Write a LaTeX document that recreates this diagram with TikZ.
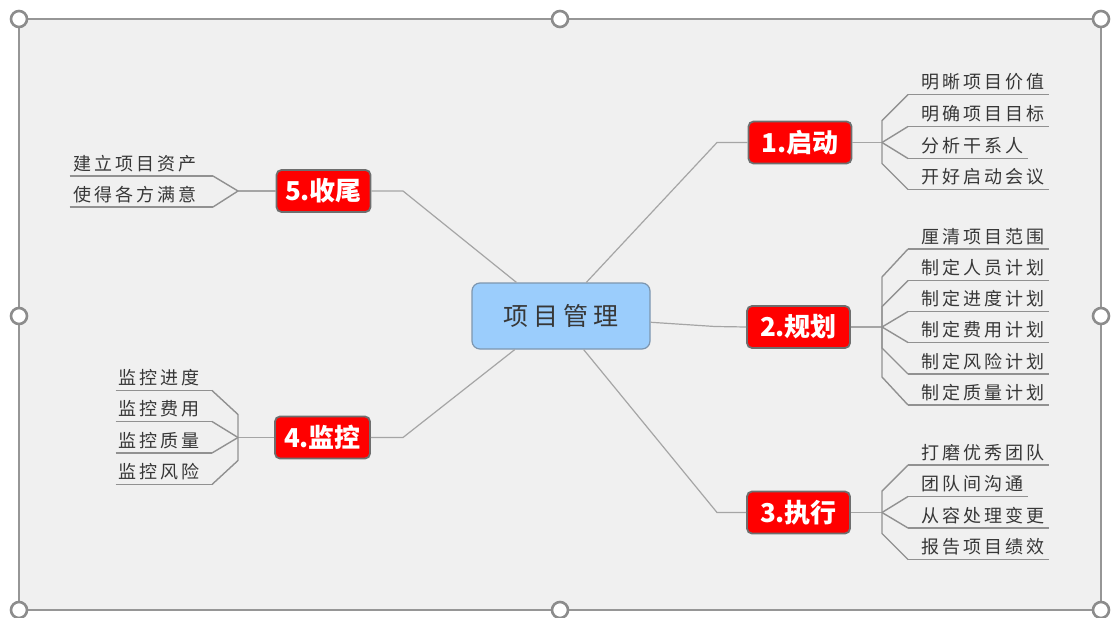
\documentclass[tikz,border=0pt]{standalone}
\usepackage{fontspec}
\setmainfont{Noto Sans CJK SC}
\definecolor{bgc}{RGB}{240,240,240}
\definecolor{framec}{RGB}{150,150,150}
\definecolor{handlec}{RGB}{140,140,140}
\definecolor{connc}{RGB}{165,165,165}
\definecolor{leafc}{RGB}{145,145,145}
\definecolor{cfill}{RGB}{155,205,252}
\definecolor{cbord}{RGB}{125,150,175}
\definecolor{rbord}{RGB}{110,110,110}
\definecolor{txtc}{RGB}{55,55,55}
\newdimen\spgap
\newcommand{\gapfive}{\spgap 5pt\relax}
\newcommand{\gapthree}{\spgap 3pt\relax}
% letter-spaced text: inserts \spgap between characters
\def\spc#1{\spcA#1\relax}
\def\spcA#1{\ifx#1\relax\else#1\expandafter\spcB\fi}
\def\spcB#1{\ifx#1\relax\else\kern\spgap#1\expandafter\spcB\fi}
\tikzset{
  centerbox/.style={draw=cbord, line width=1.2pt, fill=cfill, rounded corners=8pt,
    minimum width=178pt, minimum height=66pt, inner sep=0pt, text=txtc,
    font=\fontsize{25}{28}\selectfont\gapfive},
  topicbox/.style={draw=rbord, line width=1.8pt, fill=red, rounded corners=5pt,
    minimum height=42pt, inner sep=0pt, text=white,
    font=\fontsize{26}{30}\selectfont\bfseries},
  leafR/.style={anchor=south west, inner xsep=0pt, inner ysep=5.7pt, text depth=0pt, text=txtc,
    font=\fontsize{18}{20}\selectfont\gapthree},
  leafL/.style={anchor=south east, inner xsep=0pt, inner ysep=5.7pt, text depth=0pt, text=txtc,
    font=\fontsize{18}{20}\selectfont\gapthree},
  conn/.style={draw=connc, line width=1.2pt},
  uline/.style={draw=leafc, line width=1.4pt},
  handle/.style={draw=handlec, line width=2.6pt, fill=white},
}
\newcommand{\lr}[1]{\hspace*{13pt}\spc{#1}\hspace*{5pt}}
\newcommand{\lla}[1]{\hspace*{4pt}\spc{#1}\hspace*{16pt}}
\newcommand{\llb}[1]{\hspace*{3pt}\spc{#1}\hspace*{12pt}}
\begin{document}
\begin{tikzpicture}[x=1pt,y=-1pt]
\useasboundingbox (0,0) rectangle (1111,618);
\fill[white] (0,0) rectangle (1111,618);
% canvas with selection frame
\fill[bgc] (19,19) rectangle (1101,610);
\draw[framec, line width=2.4pt] (19,19) rectangle (1101,610);

% central and main topics
\node[centerbox] (c) at (561,316) {\spc{项目管理}};
\node[topicbox, minimum width=103pt] (t1) at (800,142.5) {1.启动};
\node[topicbox, minimum width=103pt] (t2) at (798.5,327) {2.规划};
\node[topicbox, minimum width=103pt] (t3) at (798.5,512.5) {3.执行};
\node[topicbox, minimum width=95pt] (t4) at (322.5,437.5) {4.监控};
\node[topicbox, minimum width=94pt] (t5) at (323.5,191) {5.收尾};

\coordinate (e1) at (717,142.5);
\coordinate (e2) at (715,326.5);
\coordinate (e3) at (717,512.5);
\coordinate (e4) at (403,437.5);
\coordinate (e5) at (403,191);
\draw[conn] (c.53) -- (e1) -- (t1.west);
\draw[conn] (c.-4) -- (e2) -- (t2.west);
\draw[conn] (c.-56) -- (e3) -- (t3.west);
\draw[conn] (c.-144) -- (e4) -- (t4.east);
\draw[conn] (c.143) -- (e5) -- (t5.east);

% branch points
\coordinate (b1) at (882,142.5);
\coordinate (b2) at (882,327);
\coordinate (b3) at (882,512.5);
\coordinate (b4) at (238,437.5);
\coordinate (b5) at (238,191);
\draw[conn] (t1.east) -- (b1);
\draw[conn] (t2.east) -- (b2);
\draw[conn] (t3.east) -- (b3);
\draw[conn] (t4.west) -- (b4);
\draw[conn] (t5.west) -- (b5);

% group 1
\node[leafR] (l11) at (908,94.5) {\lr{明晰项目价值}};
\node[leafR] (l12) at (908,126.5) {\lr{明确项目目标}};
\node[leafR] (l13) at (908,158.5) {\lr{分析干系人}};
\node[leafR] (l14) at (908,189.5) {\lr{开好启动会议}};
\foreach \n in {l11,l12,l13,l14} \draw[uline] (\n.south west) -- (\n.south east);
\draw[uline] (b1) -- ([shift={(-26,26)}]l11.south west) -- (l11.south west);
\draw[uline] (b1) -- (l12.south west);
\draw[uline] (b1) -- (l13.south west);
\draw[uline] (b1) -- ([shift={(-26,-26)}]l14.south west) -- (l14.south west);

% group 2
\node[leafR] (l21) at (908,249) {\lr{厘清项目范围}};
\node[leafR] (l22) at (908,280.5) {\lr{制定人员计划}};
\node[leafR] (l23) at (908,311.5) {\lr{制定进度计划}};
\node[leafR] (l24) at (908,342.5) {\lr{制定费用计划}};
\node[leafR] (l25) at (908,374) {\lr{制定风险计划}};
\node[leafR] (l26) at (908,405) {\lr{制定质量计划}};
\foreach \n in {l21,l22,l23,l24,l25,l26} \draw[uline] (\n.south west) -- (\n.south east);
\draw[uline] (b2) -- ([shift={(-26,28)}]l21.south west) -- (l21.south west);
\draw[uline] (b2) -- ([shift={(-26,26)}]l22.south west) -- (l22.south west);
\draw[uline] (b2) -- (l23.south west);
\draw[uline] (b2) -- (l24.south west);
\draw[uline] (b2) -- ([shift={(-26,-26)}]l25.south west) -- (l25.south west);
\draw[uline] (b2) -- ([shift={(-26,-28)}]l26.south west) -- (l26.south west);

% group 3
\node[leafR] (l31) at (908,465) {\lr{打磨优秀团队}};
\node[leafR] (l32) at (908,496.5) {\lr{团队间沟通}};
\node[leafR] (l33) at (908,528) {\lr{从容处理变更}};
\node[leafR] (l34) at (908,559.5) {\lr{报告项目绩效}};
\foreach \n in {l31,l32,l33,l34} \draw[uline] (\n.south west) -- (\n.south east);
\draw[uline] (b3) -- ([shift={(-26,26)}]l31.south west) -- (l31.south west);
\draw[uline] (b3) -- (l32.south west);
\draw[uline] (b3) -- (l33.south west);
\draw[uline] (b3) -- ([shift={(-26,-26)}]l34.south west) -- (l34.south west);

% group 4
\node[leafL] (l41) at (212,390.5) {\llb{监控进度}};
\node[leafL] (l42) at (212,421.5) {\llb{监控费用}};
\node[leafL] (l43) at (212,453) {\llb{监控质量}};
\node[leafL] (l44) at (212,484.5) {\llb{监控风险}};
\foreach \n in {l41,l42,l43,l44} \draw[uline] (\n.south west) -- (\n.south east);
\draw[uline] (b4) -- ([shift={(26,24)}]l41.south east) -- (l41.south east);
\draw[uline] (b4) -- (l42.south east);
\draw[uline] (b4) -- (l43.south east);
\draw[uline] (b4) -- ([shift={(26,-24)}]l44.south east) -- (l44.south east);

% group 5
\node[leafL] (l51) at (213,176) {\lla{建立项目资产}};
\node[leafL] (l52) at (213,207) {\lla{使得各方满意}};
\foreach \n in {l51,l52} \draw[uline] (\n.south west) -- (\n.south east);
\draw[uline] (b5) -- (l51.south east);
\draw[uline] (b5) -- (l52.south east);

% selection handles
\foreach \p in {(19,19),(560,19),(1101,19),(19,316),(1101,316),(19,610),(560,610),(1101,610)}
  \draw[handle] \p circle (8pt);
\end{tikzpicture}
\end{document}
